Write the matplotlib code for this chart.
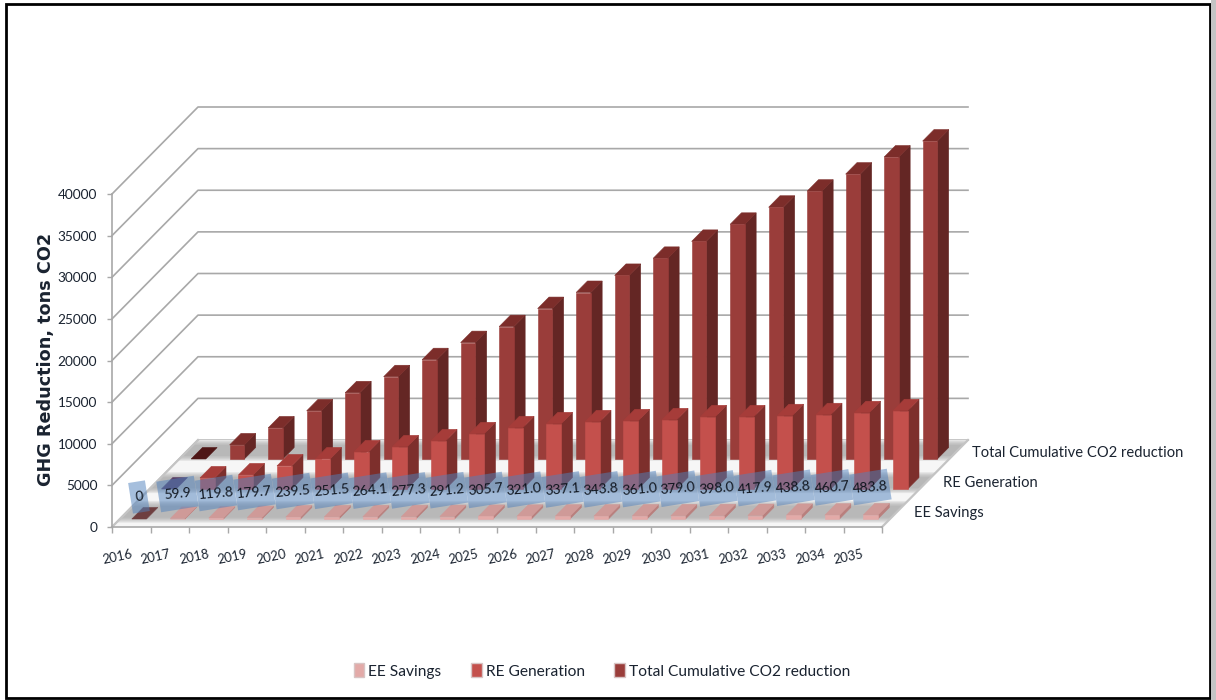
import math
import matplotlib
matplotlib.use('Agg')
import matplotlib.pyplot as plt
from matplotlib.patches import Polygon, Patch, Rectangle

plt.rcParams['font.family'] = ['Lato', 'DejaVu Sans']

years = list(range(2016, 2036))
ee_savings = [0, 59.9, 119.8, 179.7, 239.5, 251.5, 264.1, 277.3, 291.2, 305.7,
              321.0, 337.1, 343.8, 361.0, 379.0, 398.0, 417.9, 438.8, 460.7, 483.8]
re_generation = [0, 1330, 1690, 2770, 3610, 4460, 5060, 5780, 6630, 7350,
                 7830, 8070, 8190, 8310, 8670, 8670, 8800, 8920, 9160, 9400]
total_co2 = [0, 1690, 3730, 5780, 7950, 9880, 11930, 13980, 15900, 18070,
             20000, 22050, 24100, 26140, 28190, 30240, 32170, 34220, 36270, 38190]
series_names = ['EE Savings', 'RE Generation', 'Total Cumulative CO2 reduction']
y_ticks = list(range(0, 45000, 5000))

W, H = 1216, 700
GRID = '#a8a8a8'
TXT = '#1a2330'
PX_X = 1 / 38.5
PX_Y = 40000 / 333

# oblique 3d look: one unit of floor depth moves a point right and up
DEPTH_X = 86 * PX_X
DEPTH_Y = 87 * PX_Y
LANE_FRONT = [8 / 87, 38 / 87, 68 / 87]
BAR_DEPTH = 11.5 / 87
BAR_LEFT = 0.31
BAR_W = 0.38

# front, side, top, flat colour for a zero value
COLORS = [('#e3aaa8', '#b97f7d', '#cf9a98', '#6e3f40'),
          ('#c4504c', '#7d2f2c', '#a63c39', '#5a3f66'),
          ('#9a3d3a', '#642624', '#7c2d2a', '#4e1616')]


def proj(x, v, d):
    return (x + d * DEPTH_X, v + d * DEPTH_Y)


def quad(ax, pts, color, z, alpha=1.0, lw=0.4):
    ax.add_patch(Polygon([proj(*p) for p in pts], closed=True, facecolor=color,
                         edgecolor=color if alpha == 1.0 else 'none', lw=lw,
                         alpha=alpha, zorder=z, clip_on=False))


def bar(ax, i, val, lane, z):
    x0, x1 = i + BAR_LEFT, i + BAR_LEFT + BAR_W
    d0, d1 = LANE_FRONT[lane], LANE_FRONT[lane] + BAR_DEPTH
    front, side, top, flat = COLORS[lane]
    if val == 0:
        quad(ax, [(x0, 0, d0), (x1, 0, d0), (x1, 0, d1), (x0, 0, d1)], flat, z)
        return
    quad(ax, [(x1, 0, d0), (x1, 0, d1), (x1, val, d1), (x1, val, d0)], side, z)
    quad(ax, [(x0, val, d0), (x1, val, d0), (x1, val, d1), (x0, val, d1)], top, z)
    quad(ax, [(x0, 0, d0), (x1, 0, d0), (x1, val, d0), (x0, val, d0)], front, z)


def label_box(ax, cx, cy, w_px, h_px, deg, z):
    # tilted rectangle, measured in pixels round its centre
    c, s = math.cos(math.radians(deg)), math.sin(math.radians(deg))
    pts = []
    for dx, dy in [(-w_px / 2, -h_px / 2), (w_px / 2, -h_px / 2), (w_px / 2, h_px / 2), (-w_px / 2, h_px / 2)]:
        pts.append((cx + (dx * c - dy * s) * PX_X, cy + (dx * s + dy * c) * PX_Y))
    ax.add_patch(Polygon(pts, closed=True, facecolor='#4f81bd', edgecolor='none',
                         alpha=0.5, zorder=z, clip_on=False))


fig = plt.figure(figsize=(W / 100, H / 100), dpi=100, facecolor='white')
ax = fig.add_axes([112 / W, 1 - 527 / H, 770 / W, 333 / H])
ax.set_xlim(0, 20)
ax.set_ylim(0, 40000)
ax.patch.set_visible(False)

# walls
for v in y_ticks:
    xs, ys = zip(proj(0, v, 0), proj(0, v, 1), proj(20, v, 1))
    ax.plot(xs, ys, color=GRID, lw=1.2, zorder=0.5, clip_on=False)

# floor: grey soft bands under each row of bars, white between them
quad(ax, [(0, 0, 0), (20, 0, 0), (20, 0, 1), (0, 0, 1)], '#f6f6f6', 0.6)
for lane_d0, lane_d1 in [(0.05, 0.30), (0.39, 0.63), (0.76, 1.0)]:
    for k in range(5):
        inset = k * 0.014
        quad(ax, [(0, 0, lane_d0 + inset), (20, 0, lane_d0 + inset),
                  (20, 0, lane_d1 - inset), (0, 0, lane_d1 - inset)],
             '#9c9c9c', 0.7, alpha=0.2)
xs, ys = zip(proj(20, 0, 0), proj(20, 0, 1))
ax.plot(xs, ys, color='#c4c4c4', lw=1.6, zorder=0.8, clip_on=False)
xs, ys = zip(proj(0, 0, 0), proj(0, 0, 1))
ax.plot(xs, ys, color='#c4c4c4', lw=1.6, zorder=0.8, clip_on=False)

# bars, back row first
z = 1.0
for lane, values in [(2, total_co2), (1, re_generation), (0, ee_savings)]:
    for i, v in enumerate(values):
        bar(ax, i, v, lane, z)
        z += 0.01

# value labels on blue see-through boxes
for i, v in enumerate(ee_savings):
    s = '0' if v == 0 else f'{v:.1f}'
    y_px = 497 if v == 0 else 495 - 0.0165 * v
    cx, cy = i + 0.7, (527 - y_px) * PX_Y
    label_box(ax, cx, cy, 17 if v == 0 else 38, 31, 9, 5 + i * 0.01)
    ax.text(cx, cy, s, fontsize=10, color='#10161f', ha='center', va='center',
            rotation=5, rotation_mode='anchor', zorder=6)

# axes
for side_name in ['top', 'right']:
    ax.spines[side_name].set_visible(False)
for side_name in ['left', 'bottom']:
    ax.spines[side_name].set_color(GRID)
    ax.spines[side_name].set_linewidth(1.2)
    ax.spines[side_name].set_zorder(0.9)
ax.set_yticks(y_ticks)
ax.tick_params(axis='y', length=3.6, width=1, color=GRID, pad=7, labelsize=9.8, labelcolor=TXT)
ax.set_xticks(range(21))
ax.set_xticklabels([])
ax.tick_params(axis='x', length=4.4, width=1, color=GRID)
for i, yr in enumerate(years):
    ax.text(i + 0.13, -3600, str(yr), fontsize=9.4, color=TXT, rotation=12,
            ha='center', va='center', rotation_mode='anchor')

ax.text(46 / W, 1 - 359 / H, 'GHG Reduction, tons CO2', transform=fig.transFigure,
        family=['DejaVu Sans'], fontweight='bold', fontsize=12.7,
        color=TXT, rotation=90, ha='center', va='center')

# names of the rows, along the floor's right edge
for name, x_px, y_px in zip(series_names, [914, 943, 972], [513, 483, 453]):
    ax.text(x_px / W, 1 - y_px / H, name, transform=fig.transFigure, fontsize=10.6,
            color=TXT, ha='left', va='center')

handles = [Patch(facecolor=COLORS[k][0], edgecolor='#d8c4c4', lw=1) for k in range(3)]
fig.legend(handles, series_names, loc='center', bbox_to_anchor=(602 / W, 1 - 671 / H),
           ncol=3, frameon=False, fontsize=11.2, labelcolor=TXT, handlelength=0.7,
           handleheight=1.0, handletextpad=0.25, columnspacing=1.9)

# frame round the chart
fig.add_artist(Rectangle((6 / W, 1 - 698 / H), 1204 / W, 694 / H, transform=fig.transFigure,
                         fill=False, edgecolor='black', lw=2))
fig.add_artist(Rectangle((1211 / W, 0), 5 / W, 1, transform=fig.transFigure,
                         facecolor='#c4c4c4', edgecolor='none'))

fig.savefig('out.png', dpi=100)
